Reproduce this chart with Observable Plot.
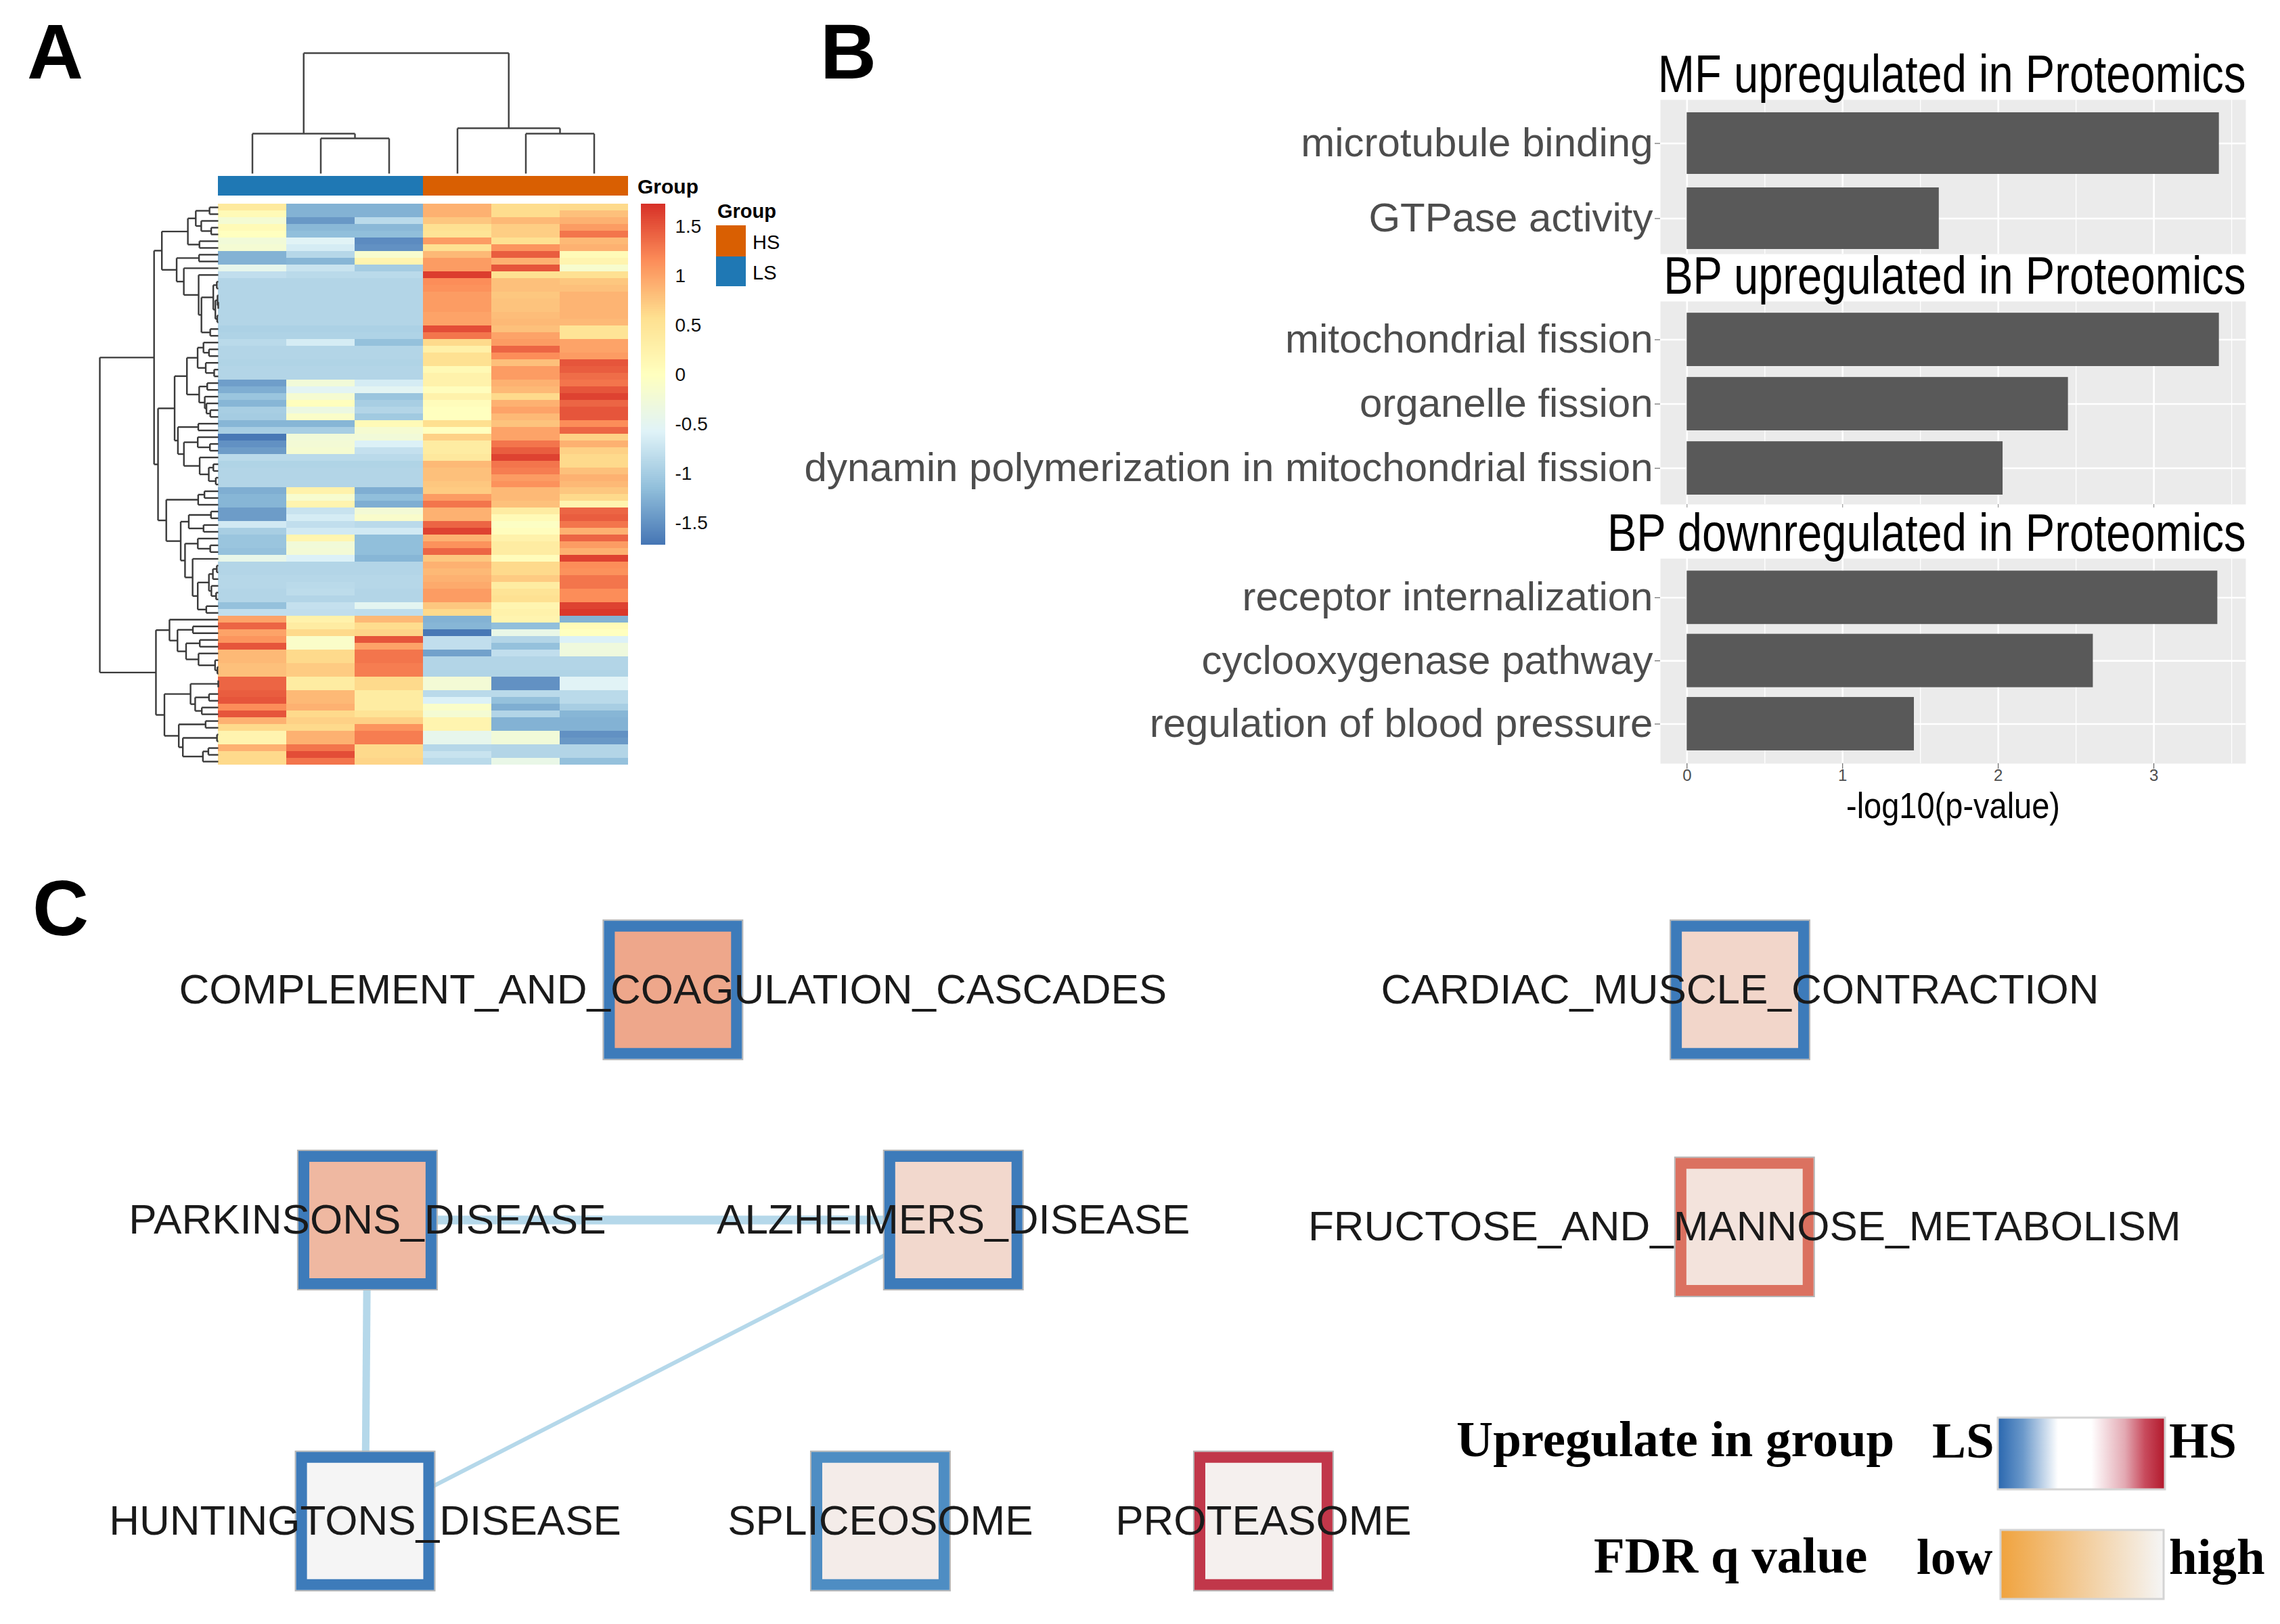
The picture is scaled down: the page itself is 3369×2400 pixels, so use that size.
<!DOCTYPE html>
<html><head><meta charset="utf-8">
<script src="https://cdn.jsdelivr.net/npm/d3@7"></script>
<script src="https://cdn.jsdelivr.net/npm/@observablehq/plot@0.6"></script>
<style>
body{margin:0;background:#fff;}
#page{position:relative;width:3369px;height:2400px;background:#fff;overflow:hidden;font-family:"Liberation Sans",Arial,sans-serif;}
.slot{position:absolute;}
.slot svg{display:block;max-width:none;}
</style></head><body><div id="page"></div>
<script>
// ---------------- Panel A data (row z-scores, rows in dendrogram order) ----------------
const sampleGroup = ["LS","LS","LS","HS","HS","HS"];
const groupNames = ["HS","LS"];
const groupColors = ["#D95F02","#1F78B4"];
const LS1 = [0.4,0.1,-0.2,0.1,0.0,-0.25,-0.2,-1.25,-1.25,-0.45, -0.8,-0.9,-0.9,-0.9,-0.9,-0.9,-0.9,-0.9,-0.95,-0.93, -0.85,-0.9,-0.9,-0.92,-0.9,-0.9,-1.4,-1.28,-1.08,-1.22, -0.98,-1.0,-1.22,-0.98,-1.7,-1.5,-1.42,-0.85,-0.92,-0.9, -0.9,-0.9,-1.28,-1.22,-1.22,-1.42,-1.42,-0.68,-0.98,-1.08, -1.08,-1.12,-0.42,-0.9,-0.9,-0.88,-0.88,-0.9,-0.9,-1.12, -0.8,1.0,1.4,1.0,1.1,1.5,0.85,0.85,0.8,0.8, 1.4,1.4,1.45,1.5,1.15,1.5,0.9,0.62,0.2,0.2, 0.9,0.62,0.62];
const LS2 = [-1.25,-1.25,-1.45,-1.2,-1.15,-0.55,-0.65,-0.88,-1.22,-0.75, -0.85,-0.9,-0.9,-0.9,-0.9,-0.9,-0.9,-0.9,-0.95,-0.93, -0.65,-0.9,-0.9,-0.92,-0.9,-0.9,-0.25,-0.52,-0.18,0.02, -0.35,-0.1,-1.22,-0.98,-0.25,-0.22,-0.18,-0.85,-0.92,-0.9, -0.9,-0.9,0.25,-0.15,0.2,-0.75,-0.65,-0.8,-0.68,0.18, -0.25,-0.22,-0.6,-0.9,-0.9,-0.88,-0.85,-0.83,-0.9,-0.78, -0.8,0.25,0.35,0.62,-0.1,-0.1,0.62,0.62,0.72,0.72, 0.35,0.35,0.85,0.85,0.9,0.62,0.68,0.62,0.9,0.9, 1.3,1.55,1.3];
const LS3 = [-1.25,-1.25,-0.85,-1.2,-1.15,-1.55,-1.5,-0.15,0.2,-1.0, -0.85,-0.9,-0.9,-0.9,-0.9,-0.9,-0.9,-0.9,-0.95,-0.93, -1.12,-0.9,-0.9,-0.92,-0.9,-0.9,-0.65,-0.52,-1.08,-0.98, -0.9,-1.03,0.1,-0.18,-0.25,-0.6,-0.78,-0.85,-0.92,-0.9, -0.9,-0.9,-1.28,-1.15,-1.28,-0.22,-0.12,-0.85,-0.68,-1.15, -1.15,-1.15,-1.22,-0.9,-0.9,-0.88,-0.88,-0.9,-0.9,-0.5, -0.82,0.85,0.6,0.65,1.5,1.0,1.3,1.3,1.25,1.25, 0.62,0.62,0.35,0.35,0.35,0.5,0.68,1.1,1.25,1.25, 0.62,0.62,0.65];
const HS1 = [0.9,0.9,0.75,0.55,0.5,1.05,0.55,0.85,1.05,1.05, 1.65,1.15,1.12,1.05,1.05,1.05,1.0,1.0,1.55,1.3, 0.62,0.28,0.55,0.55,0.12,0.25,0.25,0.03,0.25,0.05, 0.0,0.0,0.58,0.0,0.68,0.35,0.35,0.42,0.85,0.8, 0.8,0.75,0.72,1.05,1.3,0.9,0.9,1.4,1.62,0.9, 1.12,1.4,0.75,0.9,0.85,0.9,0.95,1.05,1.05,0.75, 0.62,-1.25,-1.22,-1.7,-0.8,-0.8,-1.38,-0.9,-0.9,-0.92, -0.22,-0.22,-0.85,-0.6,-0.1,-0.2,0.2,0.2,-0.45,-0.45, -0.88,-0.75,-0.85];
const HS2 = [0.6,0.6,0.85,0.7,0.7,0.55,1.1,1.45,0.9,1.5, 0.55,0.8,0.8,0.75,0.78,0.78,0.82,0.85,0.8,1.0, 1.05,1.4,1.15,0.8,1.05,1.05,0.9,0.85,0.62,0.9, 1.0,0.85,0.78,1.0,1.0,1.3,1.45,1.62,1.3,1.25, 1.05,1.12,0.85,0.85,0.8,0.35,0.1,-0.05,0.03,0.25, 0.35,0.35,0.05,0.62,0.62,0.72,0.35,0.5,0.55,0.18, 0.25,0.2,-1.15,-0.4,-0.9,-1.12,-0.8,-0.9,-0.9,-0.92, -1.5,-1.5,-0.85,-1.12,-1.28,-0.9,-1.25,-1.25,-0.25,-0.25, -0.9,-0.9,-0.4];
const HS3 = [0.62,0.8,0.9,1.05,1.3,0.85,0.9,0.08,0.2,-0.15, 0.55,0.75,0.8,0.88,0.88,0.88,0.88,0.85,0.5,0.5, 1.0,1.0,1.05,1.5,1.45,1.35,1.3,1.5,1.62,1.4, 1.5,1.5,1.15,1.4,0.68,0.9,0.68,0.62,0.62,0.8, 0.9,0.85,0.75,0.62,0.2,1.4,1.45,1.3,0.9,1.4, 1.05,0.9,1.62,1.15,1.12,1.3,1.3,1.15,1.15,1.62, 1.68,-1.25,0.08,0.0,-0.6,-0.3,-0.3,-0.9,-0.9,-0.92, -0.55,-0.55,-0.85,-0.85,-0.98,-1.22,-1.25,-1.25,-1.5,-1.45, -0.9,-0.9,-1.12];
const heatBreaks = [-1.72,-1.147,-0.573,0,0.577,1.153,1.73];
const heatPalette = ["#4575B4","#91BFDB","#E0F3F8","#FFFFBF","#FEE090","#FC8D59","#D73027"];
const heatLegendTicks = [-1.5,-1,-0.5,0,0.5,1,1.5];
// column dendrogram (hclust-style merge table)
const colMergeA = [-2,-1,-5,-4,2];
const colMergeB = [-3,1,-6,3,4];
const colMergeH = [2.92,3.31,3.31,3.76,10];

// ---------------- Panel B data ----------------
const goTitles = ["MF upregulated in Proteomics","BP upregulated in Proteomics","BP downregulated in Proteomics"];
const mfTerms = ["microtubule binding","GTPase activity"];
const mfValues = [3.42,1.62];
const bpUpTerms = ["mitochondrial fission","organelle fission","dynamin polymerization in mitochondrial fission"];
const bpUpValues = [3.42,2.45,2.03];
const bpDownTerms = ["receptor internalization","cyclooxygenase pathway","regulation of blood pressure"];
const bpDownValues = [3.41,2.61,1.46];
const goMajorTicks = [0,1,2,3];
const goMinorTicks = [0.5,1.5,2.5,3.5];
const goAxisTitle = "-log10(p-value)";

// ---------------- Panel C data ----------------
const nodeNames = ["COMPLEMENT_AND_COAGULATION_CASCADES","CARDIAC_MUSCLE_CONTRACTION","PARKINSONS_DISEASE","ALZHEIMERS_DISEASE","FRUCTOSE_AND_MANNOSE_METABOLISM","HUNTINGTONS_DISEASE","SPLICEOSOME","PROTEASOME"];
const nodeX = [295,763,161,418,765,160,386,554];
const nodeY = [63,63,164,164,167,296,296,296];
const nodeGroupScore = [-0.91,-0.91,-0.91,-0.91,0.66,-0.91,-0.83,0.86]; // <0 LS, >0 HS
const nodeFdr = [0.2,0.68,0.37,0.70,0.81,1.0,0.91,0.95];               // 0 = low, 1 = high
const edgeSource = ["PARKINSONS_DISEASE","PARKINSONS_DISEASE","ALZHEIMERS_DISEASE"];
const edgeTarget = ["ALZHEIMERS_DISEASE","HUNTINGTONS_DISEASE","HUNTINGTONS_DISEASE"];
const edgeOverlap = [0.65,0.55,0.3];

// ======================================================================
const page = document.getElementById("page");
function place(node, left, top) {
  const d = document.createElement("div");
  d.className = "slot"; d.style.left = left + "px"; d.style.top = top + "px";
  d.appendChild(node); page.appendChild(d);
}
const SANS = '"Liberation Sans", Arial, sans-serif';
const baseStyle = {background: "transparent", overflow: "visible", fontFamily: SANS};

// ---------- Panel A: heatmap ----------
const heatColumns = [LS1, LS2, LS3, HS1, HS2, HS3];
const nRows = LS1.length;
const cells = [];
heatColumns.forEach((col, c) => col.forEach((v, r) => cells.push({c, r, v})));
const heatScale = {type: "linear", domain: heatBreaks, range: heatPalette};

place(Plot.plot({
  width: 606, height: 829, margin: 0,
  x: {domain: [0, 6], axis: null}, y: {domain: [0, nRows], reverse: true, axis: null},
  color: heatScale, style: baseStyle,
  marks: [Plot.rect(cells, {x1: "c", x2: d => d.c + 1, y1: "r", y2: d => d.r + 1, fill: "v", shapeRendering: "crispEdges"})]
}), 322, 301);

// row dendrogram: adjacency-constrained complete linkage on the rows as ordered
function constrainedCluster(rows) {
  const D = rows.map(a => rows.map(b => Math.sqrt(d3.sum(a, (v, k) => (v - b[k]) ** 2))));
  let clusters = rows.map((r, i) => ({members: [i], h: 0, pos: i + 0.5}));
  const segs = [];
  while (clusters.length > 1) {
    let best = -1, bestD = Infinity;
    for (let i = 0; i < clusters.length - 1; i++) {
      const A = clusters[i], B = clusters[i + 1];
      let m = 0;
      for (const a of A.members) for (const b of B.members) m = Math.max(m, D[a][b]);
      if (m < bestD) { bestD = m; best = i; }
    }
    const A = clusters[best], B = clusters[best + 1];
    const h = Math.max(bestD, A.h, B.h);
    segs.push({x1: A.h, y1: A.pos, x2: h, y2: A.pos});
    segs.push({x1: B.h, y1: B.pos, x2: h, y2: B.pos});
    segs.push({x1: h, y1: A.pos, x2: h, y2: B.pos});
    clusters.splice(best, 2, {members: A.members.concat(B.members), h, pos: (A.pos + B.pos) / 2});
  }
  return {segs, root: clusters[0].h};
}
const rowMatrix = d3.range(nRows).map(r => heatColumns.map(col => col[r]));
const rowTree = constrainedCluster(rowMatrix);
place(Plot.plot({
  width: 179, height: 829, marginLeft: 4, marginRight: 0, marginTop: 0, marginBottom: 0,
  x: {domain: [rowTree.root, 0], axis: null}, y: {domain: [0, nRows], reverse: true, axis: null},
  style: baseStyle,
  marks: [Plot.link(rowTree.segs, {x1: "x1", y1: "y1", x2: "x2", y2: "y2", stroke: "#3a3a3a", strokeWidth: 2.4})]
}), 143, 301);

// column dendrogram
function hclustSegs(A, B, H) {
  const nodes = [], segs = [];
  const info = k => k < 0 ? {pos: -k - 0.5, h: 0} : nodes[k - 1];
  A.forEach((a, i) => {
    const L = info(a), R = info(B[i]), h = H[i];
    segs.push({x1: L.pos, y1: L.h, x2: L.pos, y2: h});
    segs.push({x1: R.pos, y1: R.h, x2: R.pos, y2: h});
    segs.push({x1: L.pos, y1: h, x2: R.pos, y2: h});
    nodes.push({pos: (L.pos + R.pos) / 2, h});
  });
  return segs;
}
place(Plot.plot({
  width: 606, height: 181, marginTop: 3, marginBottom: 0, marginLeft: 0, marginRight: 0,
  x: {domain: [0, 6], axis: null}, y: {domain: [0, d3.max(colMergeH)], axis: null},
  style: baseStyle,
  marks: [Plot.link(hclustSegs(colMergeA, colMergeB, colMergeH), {x1: "x1", y1: "y1", x2: "x2", y2: "y2", stroke: "#444", strokeWidth: 2.5})]
}), 322, 75);

// column annotation bar
place(Plot.plot({
  width: 606, height: 29, margin: 0,
  x: {domain: [0, 6], axis: null}, y: {domain: [0, 1], axis: null},
  color: {domain: groupNames, range: groupColors}, style: baseStyle,
  marks: [Plot.rect(sampleGroup, {x1: (d, i) => i, x2: (d, i) => i + 1, y1: 0, y2: 1, fill: d => d, shapeRendering: "crispEdges"})]
}), 322, 260);

// heatmap colour legend
const legendSteps = d3.range(-1.72, 1.73, 0.01);
place(Plot.plot({
  width: 136, height: 504, marginLeft: 0, marginRight: 100, marginTop: 0, marginBottom: 0,
  x: {domain: [0, 1], axis: null}, y: {domain: [-1.72, 1.73]},
  color: heatScale, style: baseStyle,
  marks: [
    Plot.rect(legendSteps, {x1: 0, x2: 1, y1: d => d, y2: d => d + 0.011, fill: d => d + 0.005, shapeRendering: "crispEdges"}),
    Plot.axisY({anchor: "right", ticks: heatLegendTicks, tickSize: 0, tickPadding: 14, fontSize: 28, tickFormat: d => String(d), color: "#111", label: null})
  ]
}), 947, 301);

// ---------- Panel B: GO bar charts ----------
function goPanel(terms, values, title, o) {
  const data = terms.map((t, i) => ({term: t, value: values[i]}));
  const marks = [
    Plot.frame({fill: "#EBEBEB", stroke: "none"}),
    Plot.gridX({ticks: goMinorTicks, stroke: "#fff", strokeOpacity: 1, strokeWidth: 1.3}),
    Plot.gridX({ticks: goMajorTicks, stroke: "#fff", strokeOpacity: 1, strokeWidth: 2.6}),
    Plot.gridY({stroke: "#fff", strokeOpacity: 1, strokeWidth: 2.6}),
    Plot.barX(data, {x: "value", y: "term", fill: "#595959"}),
    Plot.axisY({tickSize: 8, tickPadding: 3, fontSize: 60, color: "#4D4D4D", label: null}),
    Plot.text([title], {text: d => d, frameAnchor: "top-right", textAnchor: "end", lineAnchor: "bottom", dy: -12, fontSize: 78, fill: "#000"})
  ];
  if (o.axis === "full") {
    marks.push(Plot.axisX({ticks: goMajorTicks, tickSize: 8, tickPadding: 0, fontSize: 24, color: "#4D4D4D", tickFormat: d => String(d), label: null}));
    marks.push(Plot.text([goAxisTitle], {text: d => d, frameAnchor: "bottom", lineAnchor: "bottom", dy: 80, fontSize: 54, fill: "#000"}));
  } else if (o.axis === "ticks") {
    marks.push(Plot.axisX({ticks: goMajorTicks, tickSize: 5, tickFormat: () => "", color: "#888", label: null}));
  }
  return Plot.plot({
    width: 2230, height: o.marginTop + o.inner + o.marginBottom,
    marginLeft: 1353, marginRight: 12, marginTop: o.marginTop, marginBottom: o.marginBottom,
    x: {domain: [-0.171, 3.591], axis: null},
    y: {domain: terms, paddingInner: o.pi, paddingOuter: o.po, align: o.align, round: false, axis: null},
    style: baseStyle, marks
  });
}
place(goPanel(mfTerms, mfValues, goTitles[0], {marginTop: 117, inner: 228, marginBottom: 5, pi: 0.18, po: 0.117, align: 0.73, axis: "none"}), 1100, 30);
place(goPanel(bpUpTerms, bpUpValues, goTitles[1], {marginTop: 105, inner: 300, marginBottom: 15, pi: 0.17, po: 0.164, align: 0.55, axis: "ticks"}), 1100, 340);
place(goPanel(bpDownTerms, bpDownValues, goTitles[2], {marginTop: 105, inner: 303, marginBottom: 105, pi: 0.155, po: 0.2, align: 0.49, axis: "full"}), 1100, 720);
// the facet titles and axis title use a condensed face in the original: narrow them about their anchor
function condense(strings, ratio) {
  document.querySelectorAll("#page svg text").forEach(t => {
    if (strings.includes(t.textContent)) {
      const ax = parseFloat(t.getAttribute("x")) || 0;
      const tr = t.getAttribute("transform") || "";
      t.setAttribute("transform", `${tr} translate(${ax},0) scale(${ratio},1) translate(${-ax},0)`.trim());
    }
  });
}
condense(goTitles, 0.835);
condense([goAxisTitle], 0.87);

// ---------- Panel C: enrichment network ----------
const borderScale = Plot.scale({color: {type: "linear", domain: [-1, -0.83, 0, 0.66, 0.86, 1], range: ["#2A67AF", "#4E8DC3", "#FFFFFF", "#DB7160", "#C1374A", "#B2182B"]}});
const fillScale = Plot.scale({color: {type: "linear", domain: [0, 1], range: ["#EC9470", "#F5F5F5"]}});
const nodes = nodeNames.map((name, i) => ({name, x: nodeX[i], y: nodeY[i], score: nodeGroupScore[i], fdr: nodeFdr[i]}));
const nodeByName = new Map(nodes.map(n => [n.name, n]));
const edges = edgeSource.map((s, i) => ({a: nodeByName.get(s), b: nodeByName.get(edgeTarget[i]), w: edgeOverlap[i]}));
place(Plot.plot({
  width: 3369, height: 1150, margin: 0,
  x: {domain: [0, 1000], axis: null}, y: {domain: [0, 341.35], reverse: true, axis: null},
  color: {type: "identity"}, style: baseStyle,
  marks: [
    Plot.link(edges, {x1: d => d.a.x, y1: d => d.a.y, x2: d => d.b.x, y2: d => d.b.y, stroke: "#B5D8EA", strokeWidth: d => d.w * 20}),
    Plot.dot(nodes, {x: "x", y: "y", symbol: "square", r: 116.2, stroke: "#B4B4B4", strokeWidth: 2, fill: "none"}),
    Plot.dot(nodes, {x: "x", y: "y", symbol: "square", r: 106, strokeWidth: 16, stroke: d => borderScale.apply(d.score), fill: d => fillScale.apply(d.fdr)}),
    Plot.text(nodes, {x: "x", y: "y", text: "name", fontSize: 62, fill: "#1a1a1a", fontFamily: SANS})
  ]
}), 0, 1250);

// ---------- overlay: panel letters and legends ----------
const ov = `<svg xmlns="http://www.w3.org/2000/svg" width="3369" height="2400" style="position:absolute;left:0;top:0;pointer-events:none">
<defs>
<linearGradient id="gUp" x1="0" x2="1" y1="0" y2="0">
<stop offset="0" stop-color="#2A67AF"/><stop offset="0.15" stop-color="#6A98CA"/><stop offset="0.36" stop-color="#FFFFFF"/>
<stop offset="0.56" stop-color="#FFFFFF"/><stop offset="0.76" stop-color="#E3A9B3"/><stop offset="0.88" stop-color="#C84B5D"/><stop offset="1" stop-color="#B2182B"/>
</linearGradient>
<linearGradient id="gFdr" x1="0" x2="1" y1="0" y2="0"><stop offset="0" stop-color="#F0A33E"/><stop offset="1" stop-color="#F5F5F5"/></linearGradient>
</defs>
<g font-family='"Liberation Sans", Arial, sans-serif' font-weight="bold" font-size="115" fill="#000">
<text x="40" y="116">A</text><text x="1212" y="116">B</text><text x="48" y="1382">C</text>
</g>
<g font-family='"Liberation Sans", Arial, sans-serif' fill="#000">
<text x="942" y="286" font-size="30" font-weight="bold">Group</text>
<text x="1060" y="322" font-size="29" font-weight="bold">Group</text>
<rect x="1058" y="333" width="44" height="46" fill="${groupColors[0]}"/>
<rect x="1058" y="379" width="44" height="44" fill="${groupColors[1]}"/>
<text x="1112" y="368" font-size="29">${groupNames[0]}</text>
<text x="1112" y="413" font-size="29">${groupNames[1]}</text>
</g>
<g font-family='"Liberation Serif", "Times New Roman", serif' font-weight="bold" font-size="75" fill="#000">
<text x="2152" y="2152">Upregulate in group</text>
<text x="2855" y="2154">LS</text>
<text x="3205" y="2154">HS</text>
<text x="2355" y="2324">FDR q value</text>
<text x="2832" y="2326">low</text>
<text x="3205" y="2326">high</text>
</g>
<rect x="2952" y="2095" width="247" height="106" fill="url(#gUp)" stroke="#D4D4D4" stroke-width="3"/>
<rect x="2956" y="2261" width="241" height="102" fill="url(#gFdr)" stroke="#D4D4D4" stroke-width="3"/>
</svg>`;
page.insertAdjacentHTML("beforeend", ov);
</script></body></html>
